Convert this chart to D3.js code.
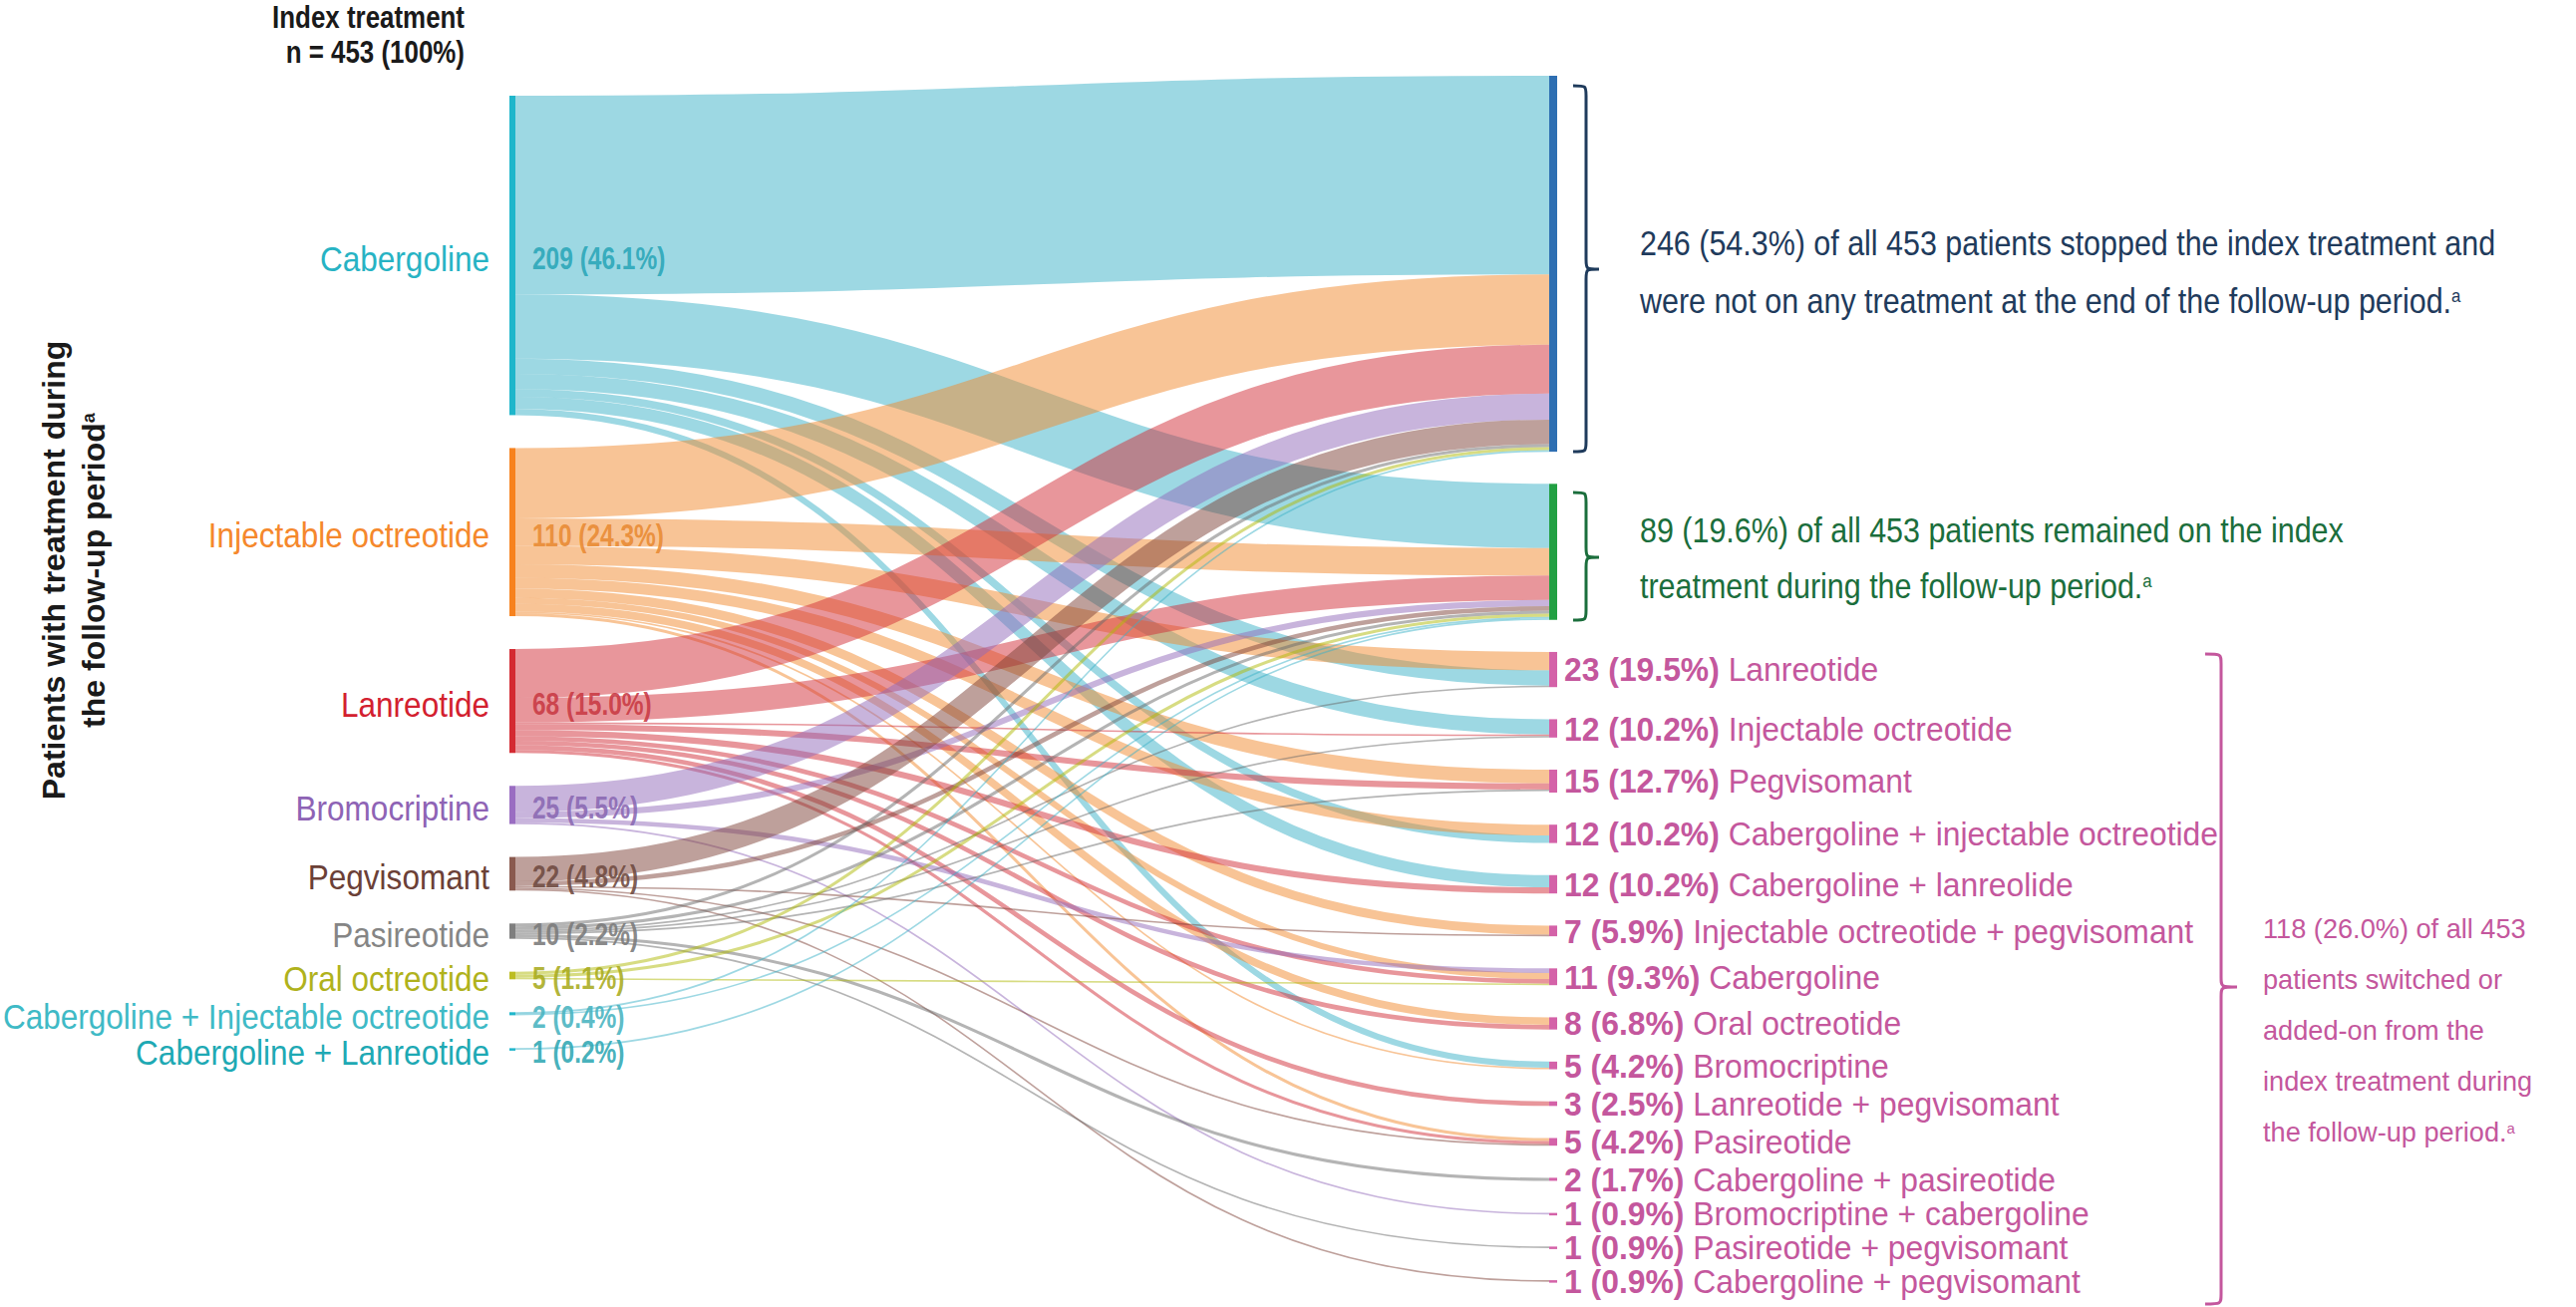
<!DOCTYPE html>
<html><head><meta charset="utf-8">
<script src="https://cdn.jsdelivr.net/npm/d3@7"></script>
<style>
html,body{margin:0;padding:0;background:#fff;}
svg{display:block;}
</style></head>
<body>
<svg id="chart" width="2584" height="1311"></svg>
<script>
// ---------------- DATA ----------------
const sources = ["Cabergoline","Injectable octreotide","Lanreotide","Bromocriptine","Pegvisomant","Pasireotide","Oral octreotide","Cabergoline + Injectable octreotide","Cabergoline + Lanreotide"];
const sourceCounts = [209,110,68,25,22,10,5,2,1];
const sourcePct = ["46.1%","24.3%","15.0%","5.5%","4.8%","2.2%","1.1%","0.4%","0.2%"];

const targets = ["Stopped","Remained","Lanreotide","Injectable octreotide","Pegvisomant","Cabergoline + injectable octreotide","Cabergoline + lanreolide","Injectable octreotide + pegvisomant","Cabergoline","Oral octreotide","Bromocriptine","Lanreotide + pegvisomant","Pasireotide","Cabergoline + pasireotide","Bromocriptine + cabergoline","Pasireotide + pegvisomant","Cabergoline + pegvisomant"];
const targetCounts = [246,89,23,12,15,12,12,7,11,8,5,3,5,2,1,1,1];
const targetPct = ["54.3%","19.6%","19.5%","10.2%","12.7%","10.2%","10.2%","5.9%","9.3%","6.8%","4.2%","2.5%","4.2%","1.7%","0.9%","0.9%","0.9%"];

// [source index, target index, patients], grouped by target (order = stacking at the target)
const flows = [
  [0,0,130],[1,0,46],[2,0,32],[3,0,17],[4,0,16],[5,0,2],[6,0,2],[7,0,1],
  [0,1,42],[1,1,18],[2,1,16],[3,1,4],[4,1,3],[5,1,2],[6,1,2],[7,1,1],[8,1,1],
  [1,2,12],[0,2,10],[5,2,1],
  [0,3,10],[2,3,1],[5,3,1],
  [1,4,9],[2,4,4],[5,4,1],
  [1,5,7],[0,5,5],
  [0,6,8],[2,6,4],
  [1,7,6],[4,7,1],
  [3,8,3],[1,8,4],[2,8,3],[6,8,1],
  [1,9,5],[2,9,3],
  [0,10,4],[1,10,1],
  [2,11,3],
  [1,12,2],[2,12,2],[4,12,1],
  [5,13,2],
  [3,14,1],
  [5,15,1],
  [4,16,1]
];

const stoppedText = ["246 (54.3%) of all 453 patients stopped the index treatment and","were not on any treatment at the end of the follow-up period."];
const remainedText = ["89 (19.6%) of all 453 patients remained on the index","treatment during the follow-up period."];
const switchedText = ["118 (26.0%) of all 453","patients switched or","added-on from the","index treatment during","the follow-up period."];
const titleText = ["Index treatment","n = 453 (100%)"];
const axisText = ["Patients with treatment during","the follow-up period"];

// ---------------- STYLES ----------------
const nodeColors = ["#1fb6cb","#f7821e","#d42a32","#9a6dc2","#8a5a4f","#7f7f7f","#bcbd22","#1fb6cb","#1fb6cb"];
const labelColors = ["#27b3c4","#f5882c","#d3202f","#8e63b5","#6b4037","#858585","#b0b21c","#3fbac6","#1ea9b4"];
const valueColors = ["#2aa6b8","#e98a33","#c83a44","#8a68b2","#6e4a40","#7a7a7a","#a9ab1f","#48b3c0","#2fa7b3"];
const linkColors = ["#3bb1c7","#f1892d","#d12d37","#9169b9","#7d4137","#6a6a6a","#afb905","#3bb1c7","#3bb1c7"];
const pink = "#c4579d", pinkBar = "#d462a8", navy = "#1f3b5c", green = "#1b6e3c";

const SANS = "'Liberation Sans',Arial,Helvetica,sans-serif";

const svg = d3.select("#chart");
const unit = d3.scaleLinear().domain([0, 453]).range([0, 453 * 1.533]);

function stack(counts, top, gap) {
  let y = top;
  return counts.map(c => { const h = unit(c); const n = {y0: y, y1: y + h}; y += h + gap; return n; });
}
const L = stack(sourceCounts, 96, 33);
const R = stack(targetCounts, 76, 32.2);
const xL0 = 511, xL1 = 517, xR0 = 1554, xR1 = 1562;

const links = flows.map(([s, t, v], i) => ({s, t, v, i}));
const sOff = sourceCounts.map(() => 0), tOff = targetCounts.map(() => 0);
links.slice().sort((a, b) => a.s - b.s || a.t - b.t).forEach(l => {
  l.ys = L[l.s].y0 + sOff[l.s] + unit(l.v) / 2; sOff[l.s] += unit(l.v);
});
links.forEach(l => {
  l.yt = R[l.t].y0 + tOff[l.t] + unit(l.v) / 2; tOff[l.t] += unit(l.v);
});

const linkGen = d3.linkHorizontal().source(d => [xL1, d.ys]).target(d => [xR0, d.yt]);
svg.append("g").selectAll("path").data(links.slice().sort((a, b) => a.s - b.s || a.t - b.t)).join("path")
  .attr("d", linkGen)
  .attr("fill", "none")
  .attr("stroke", d => linkColors[d.s])
  .attr("stroke-opacity", 0.5)
  .attr("stroke-width", d => Math.max(1.6, unit(d.v)));

// left nodes
svg.append("g").selectAll("rect").data(L).join("rect")
  .attr("x", xL0).attr("width", xL1 - xL0)
  .attr("y", d => d.y0).attr("height", d => Math.max(2.5, d.y1 - d.y0))
  .attr("fill", (d, i) => nodeColors[i]);

// right nodes
svg.append("g").selectAll("rect").data(R).join("rect")
  .attr("x", xR0).attr("width", xR1 - xR0)
  .attr("y", d => d.y0).attr("height", d => Math.max(2.5, d.y1 - d.y0))
  .attr("fill", (d, i) => i === 0 ? "#2e6fb2" : i === 1 ? "#22a043" : pinkBar);

// condensed text helper: horizontal squeeze emulates a narrow typeface
const sq = (x, y, s) => `translate(${x},${y}) scale(${s},1)`;

// left labels
svg.append("g").selectAll("text").data(L).join("text")
  .attr("transform", d => sq(491, (d.y0 + d.y1) / 2 + 3, 0.876)).attr("dy", "0.35em")
  .attr("text-anchor", "end")
  .attr("font-family", SANS).attr("font-size", 36)
  .attr("fill", (d, i) => labelColors[i])
  .text((d, i) => sources[i]);

// left value labels
svg.append("g").selectAll("text").data(L).join("text")
  .attr("transform", d => sq(534, (d.y0 + d.y1) / 2 + 3, 0.79)).attr("dy", "0.35em")
  .attr("font-family", SANS).attr("font-size", 31).attr("font-weight", "bold")
  .attr("fill", (d, i) => valueColors[i]).attr("fill-opacity", 0.9)
  .text((d, i) => `${sourceCounts[i]} (${sourcePct[i]})`);

// right labels (switched)
const rl = svg.append("g").selectAll("text").data(R.slice(2)).join("text")
  .attr("transform", d => sq(1569, (d.y0 + d.y1) / 2, 0.937)).attr("dy", "0.35em")
  .attr("font-family", SANS).attr("font-size", 34).attr("fill", pink);
rl.append("tspan").attr("font-weight", "bold").text((d, i) => `${targetCounts[i + 2]} (${targetPct[i + 2]}) `);
rl.append("tspan").text((d, i) => targets[i + 2]);

// braces
function brace(x, y0, y1, ym, w) {
  const h = w / 2, r = Math.min(10, (ym - y0) / 4);
  return `M${x},${y0} C${x + h},${y0} ${x + h},${y0} ${x + h},${y0 + r}` +
    ` L${x + h},${ym - r} C${x + h},${ym} ${x + h},${ym} ${x + w},${ym}` +
    ` C${x + h},${ym} ${x + h},${ym} ${x + h},${ym + r}` +
    ` L${x + h},${y1 - r} C${x + h},${y1} ${x + h},${y1} ${x},${y1}`;
}
const bg = svg.append("g").attr("fill", "none").attr("stroke-width", 3);
bg.append("path").attr("d", brace(1578, 86, 453, 270, 26)).attr("stroke", navy);
bg.append("path").attr("d", brace(1578, 494, 622, 559, 26)).attr("stroke", green);
bg.append("path").attr("d", brace(2212, 656, 1308, 990, 32)).attr("stroke", pink);

function para(lines, x, y0, lh, size, sx, color) {
  const g = svg.append("g");
  lines.forEach((t, i) => {
    const tx = g.append("text").attr("transform", sq(x, y0 + i * lh, sx))
      .attr("font-family", SANS).attr("font-size", size).attr("fill", color);
    tx.append("tspan").text(t);
    if (i === lines.length - 1) tx.append("tspan").attr("baseline-shift", "super").attr("font-size", size * 0.55).text("a");
  });
}
para(stoppedText, 1645, 256, 58, 35, 0.87, navy);
para(remainedText, 1645, 544, 56, 35, 0.87, green);
para(switchedText, 2270, 941, 51, 28, 0.97, pink);

// title
svg.append("g").selectAll("text").data(titleText).join("text")
  .attr("transform", (d, i) => sq(466, 28 + i * 35, 0.81))
  .attr("text-anchor", "end").attr("font-family", SANS).attr("font-weight", "bold")
  .attr("font-size", 32).attr("fill", "#1a1a1a").text(d => d);

// y-axis title
const ax = svg.append("g").attr("transform", "translate(0,572) rotate(-90)");
axisText.forEach((t, i) => {
  const tx = ax.append("text").attr("x", 0).attr("y", 54 + i * 40).attr("dy", "0.35em")
    .attr("text-anchor", "middle").attr("font-family", SANS).attr("font-weight", "bold")
    .attr("font-size", 32).attr("fill", "#1a1a1a");
  tx.append("tspan").text(t);
  if (i === 1) tx.append("tspan").attr("baseline-shift", "super").attr("font-size", 18).text("a");
});
</script>
</body></html>
